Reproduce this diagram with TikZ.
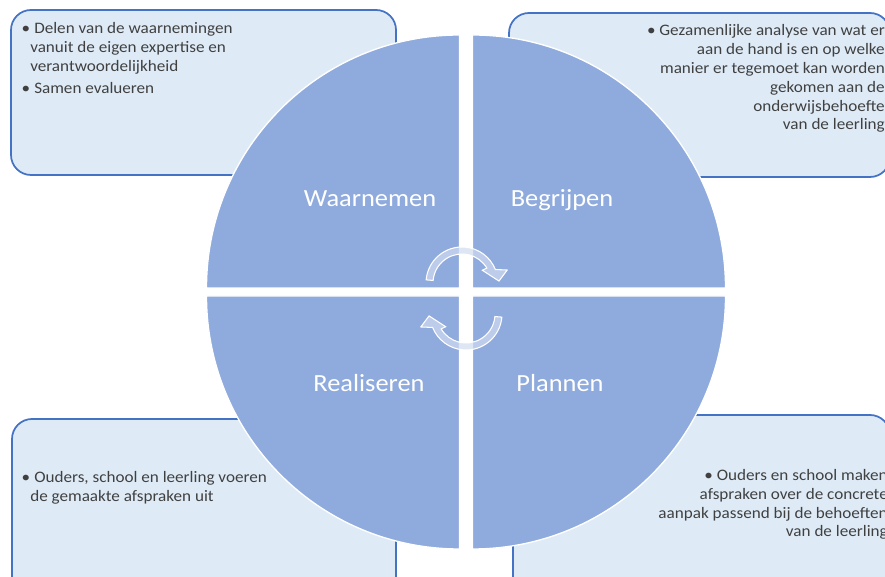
\documentclass[tikz,border=0pt]{standalone}
\usepackage{fontspec}
\setmainfont{Carlito}[FakeStretch=1.07]
\usepackage{tikz}
\usetikzlibrary{positioning}
\tikzset{%
  infobox/.style={draw=boxline,fill=boxfill,line width=1.3pt,rounded corners=15pt},
  quarter/.style={fill=myblue,draw=white,line width=1pt},
  phase/.style={anchor=base,text=white,inner sep=0pt,font=\fontsize{18.5}{22}\selectfont},
  note/.style={text=mytext,inner sep=0pt,font=\fontsize{12}{14.25}\selectfont},
  turn/.style={fill=turnfill,fill opacity=0.7,draw=white,line width=0.8pt},
}
\definecolor{myblue}{HTML}{8FAADC}
\definecolor{boxfill}{HTML}{DEEBF7}
\definecolor{boxline}{HTML}{4472C4}
\definecolor{mytext}{HTML}{404040}
\definecolor{turnfill}{HTML}{D0DBF0}

\begin{document}
\begin{tikzpicture}[x=0.75pt,y=0.75pt]
      \useasboundingbox (0,0) rectangle (885,577);
      \clip (0,0) rectangle (885,577);

      % boxes behind the circle
      \draw[infobox] (11,402) rectangle (396,567);
      \draw[infobox] (509,400) rectangle (890,564);
      \draw[infobox] (12,-30) rectangle (396,158);
      \draw[infobox] (513,-30) rectangle (890,162);

      % the four quarters
      \filldraw[quarter] (459.5,289) -- ++(180:253) arc[start angle=180,end angle=90,radius=253] -- cycle;
      \filldraw[quarter] (472.5,289) -- ++(90:253) arc[start angle=90,end angle=0,radius=253] -- cycle;
      \filldraw[quarter] (459.5,281) -- ++(270:253) arc[start angle=270,end angle=180,radius=253] -- cycle;
      \filldraw[quarter] (472.5,281) -- ++(0:253) arc[start angle=0,end angle=-90,radius=253] -- cycle;

      \node[phase] (node_waarnemen) at (370,370) {Waarnemen};
      \node[phase] (node_begrijpen) at (562,370) {Begrijpen};
      \node[phase] (node_realiseren) at (369,185) {Realiseren};
      \node[phase] (node_plannen) at (560,185) {Plannen};

      % turning arrows
      \begin{scope}[shift={(462,294)}]
        \filldraw[turn] (175:36) arc[start angle=175,end angle=22,radius=36] -- (16:47) -- (3:37)
          -- (32:24) -- (31:29) arc[start angle=31,end angle=175,radius=29] -- cycle;
      \end{scope}
      \begin{scope}[shift={(466,263)},rotate=180]
        \filldraw[turn] (175:36) arc[start angle=175,end angle=22,radius=36] -- (16:47) -- (3:37)
          -- (32:24) -- (31:29) arc[start angle=31,end angle=175,radius=29] -- cycle;
      \end{scope}

      % texts in the boxes (base = last line)
      \node[note,anchor=base west,align=left] (note_delen) at (30,505)
        {\llap{\textbullet}\hspace{3pt}Delen van de waarnemingen\\vanuit de eigen expertise en\\verantwoordelijkheid};
      \node[note,anchor=base west,align=left] (note_samen) at (30,483)
        {\llap{\textbullet}\hspace{3pt}Samen evalueren};
      \node[note,anchor=base east,align=right,font=\fontsize{12}{14.1}\selectfont] (note_analyse) at (885,447)
        {\textbullet\ Gezamenlijke analyse van wat er\\aan de hand is en op welke\\manier er tegemoet kan worden\\gekomen aan de\\onderwijsbehoefte\\van de leerling};
      \node[note,anchor=base west,align=left] (note_voeren) at (30,75)
        {\llap{\textbullet}\hspace{3pt}Ouders, school en leerling voeren\\de gemaakte afspraken uit};
      \node[note,anchor=base east,align=right,font=\fontsize{12}{14}\selectfont] (note_afspraken) at (888,40)
        {\textbullet\ Ouders en school maken\\afspraken over de concrete\\aanpak passend bij de behoeften\\van de leerling};
\end{tikzpicture}
\end{document}
